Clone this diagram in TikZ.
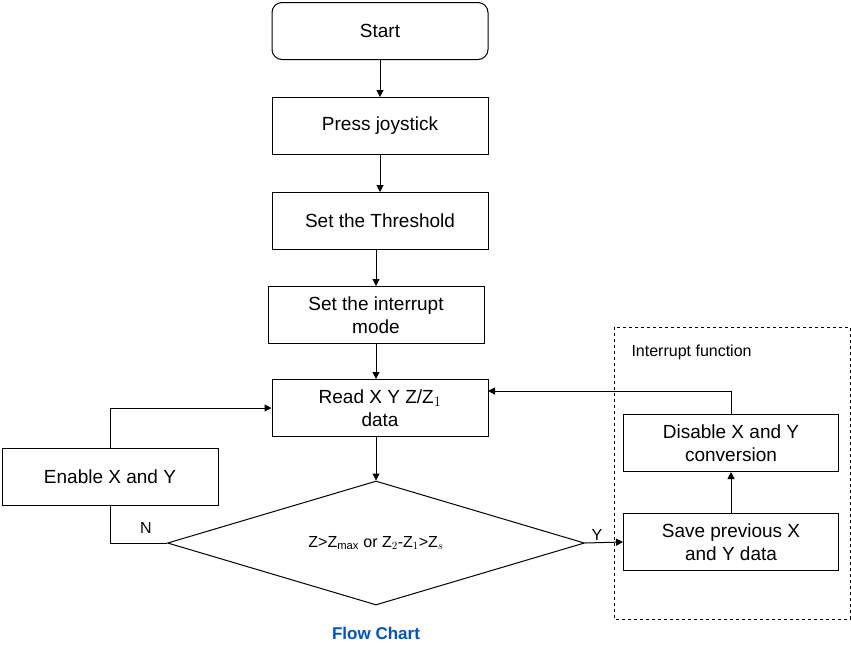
\documentclass[tikz,border=0pt]{standalone}
\usepackage{fontspec}
\setmainfont{Liberation Sans}
\usetikzlibrary{shapes.geometric,arrows.meta}
\begin{document}
\begin{tikzpicture}[x=1pt,y=-1pt,
  box/.style={draw,line width=1pt,minimum width=216pt,minimum height=57pt,align=center,font=\fontsize{19}{23}\selectfont,inner sep=1pt},
  sbox/.style={box,minimum width=215pt},
  arr/.style={line width=1pt,-{Triangle[length=7pt,width=7pt]}},
  ln/.style={line width=1pt}]
\useasboundingbox (0,0) rectangle (851,657);
\node[box,rounded corners=10pt] (start) at (380,31) {Start};
\node[box] (press) at (380,126) {Press joystick};
\node[box] (thr) at (380,221) {Set the Threshold};
\node[box] (intm) at (376,315) {Set the interrupt\\mode};
\node[box] (read) at (380,408) {Read X Y Z/Z$_1$\\data};
\node[draw,line width=1pt,diamond,aspect=3.36,minimum width=417pt,minimum height=124pt,inner sep=0pt,font=\fontsize{16}{20}\selectfont] (dec) at (376,543) {Z>Z$_{\mathrm{max}}$ or Z$_2$-Z$_1$>Z$_s$};
\node[box] (en) at (110,477) {Enable X and Y};
\draw[dashed,line width=1pt] (614,327) rectangle (850,619);
\node[anchor=west,font=\fontsize{16}{20}\selectfont] (ifl) at (628,352) {Interrupt function};
\node[sbox] (dis) at (731,443) {Disable X and Y\\conversion};
\node[sbox] (save) at (731,542) {Save previous X\\and Y data};
\node[font=\fontsize{17}{20}\selectfont\bfseries,text=blue!60!cyan!80!black] (fc) at (376,633) {Flow Chart};
\draw[arr] (start) -- (press);
\draw[arr] (press) -- (thr);
\draw[arr] (thr.south -| intm) -- (intm);
\draw[arr] (intm.south) -- (intm.south |- read.north);
\draw[arr] (read.south -| dec) -- (dec.north);
\draw[ln] (dec.west) -- (110,543) -- (en.south);
\node[font=\fontsize{16}{20}\selectfont] (n) at (146,528) {N};
\draw[arr] (en.north) -- (110,408) -- (read.west);
\draw[arr] (dec.east) -- (save.west);
\node[font=\fontsize{16}{20}\selectfont] (y) at (597,535) {Y};
\draw[arr] (save) -- (dis);
\draw[arr] (dis.north) -- (731,391) -- (488,391);
\end{tikzpicture}
\end{document}
